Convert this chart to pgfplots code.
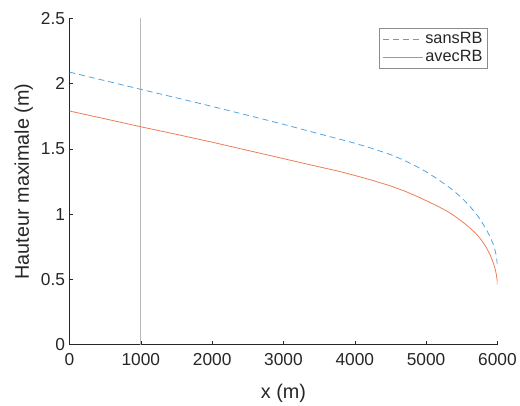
\documentclass[border=0pt]{standalone}
\usepackage{pgfplots}
\pgfplotsset{compat=1.18}
\usepackage{fontspec}
\setmainfont{Liberation Sans}
\definecolor{mblue}{RGB}{80,165,225}
\definecolor{morange}{RGB}{236,125,85}
\definecolor{axgray}{RGB}{38,38,38}
\pgfplotstableread{
x y
0 2.088
500 2.022
1000 1.956
1500 1.891
2000 1.825
2500 1.757
3000 1.688
3500 1.615
3800 1.572
4000 1.543
4250 1.502
4500 1.456
4700 1.410
4875 1.362
5000 1.324
5150 1.272
5300 1.215
5400 1.172
5500 1.124
5600 1.068
5700 1.003
5750 0.965
5800 0.922
5850 0.875
5900 0.822
5940 0.770
5970 0.715
5985 0.675
5995 0.630
6000 0.590
}\sansRB
\pgfplotstableread{
x y
0 1.790
500 1.730
1000 1.669
1500 1.611
2000 1.551
2500 1.488
3000 1.425
3500 1.362
3800 1.325
4000 1.296
4250 1.258
4500 1.216
4700 1.176
4875 1.135
5000 1.103
5150 1.064
5300 1.020
5400 0.985
5500 0.945
5600 0.900
5700 0.850
5750 0.818
5800 0.782
5850 0.738
5900 0.685
5940 0.628
5965 0.585
5985 0.535
5995 0.495
6000 0.460
}\avecRB
\begin{document}
\begin{tikzpicture}
\begin{axis}[
  scale only axis,
  width=431bp, height=328.5bp,
  xmin=0, xmax=6000, ymin=0, ymax=2.5,
  axis x line*=bottom, axis y line*=left,
  axis line style={axgray, line width=0.6pt},
  tick align=inside,
  major tick length=4bp,
  tick style={axgray, line width=0.6pt},
  xtick={0,1000,...,6000},
  ytick={0,0.5,1,1.5,2,2.5},
  /pgf/number format/1000 sep={},
  /pgf/number format/assume math mode=true,
  ticklabel style={font=\fontsize{17.5}{19}\selectfont, text=axgray},
  xticklabel style={yshift=-5bp},
  yticklabel style={/pgf/number format/fixed, xshift=-1bp},
  xlabel={x (m)},
  ylabel={Hauteur maximale (m)},
  label style={font=\fontsize{20}{22}\selectfont, text=axgray},
  xlabel style={at={([yshift=-49bp]axis description cs:0.5,0)}, anchor=center},
  ylabel style={at={([xshift=-46bp]axis description cs:0,0.5)}, anchor=center},
  legend style={at={(0.977,0.970)}, anchor=north east, draw=none, name=leg,
    font=\fontsize{16.5}{18}\selectfont,
    inner xsep=3bp, inner ysep=2bp, row sep=0bp,
    nodes={inner ysep=1bp, text height=12bp, text depth=4bp}},
  legend cell align=left,
]
\addplot[gray!55, line width=0.8pt, forget plot] coordinates {(1000,0) (1000,2.5)};
\addplot[color=mblue, line width=0.8pt, dash pattern=on 6bp off 4bp, mark=none,
  legend image code/.code={\draw[color=mblue, line width=1pt, dash pattern=on 6bp off 4bp] (0bp,0bp) -- (40bp,0bp);}]
  table[x=x,y=y] {\sansRB};
\addlegendentry{\textcolor{axgray}{sansRB}}
\addplot[color=morange, line width=0.8pt, mark=none,
  legend image code/.code={\draw[color=morange, line width=1pt] (0bp,0bp) -- (40bp,0bp);}]
  table[x=x,y=y] {\avecRB};
\addlegendentry{\textcolor{axgray}{avecRB}}
\end{axis}
\draw[gray!90, line width=0.6pt] (leg.south west) rectangle (leg.north east);
\path ([xshift=-70bp,yshift=-58bp]current axis.south west) rectangle ([xshift=19bp,yshift=18.5bp]current axis.north east);
\end{tikzpicture}
\end{document}
